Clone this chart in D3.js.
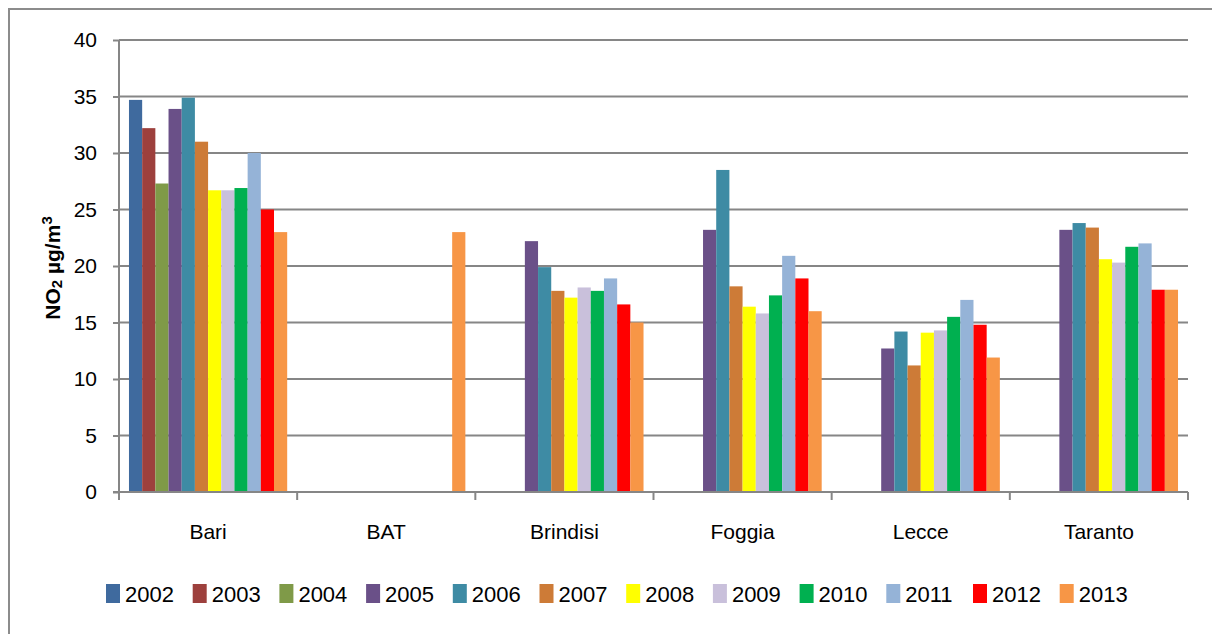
<!DOCTYPE html>
<html>
<head>
<meta charset="utf-8">
<script src="https://cdn.jsdelivr.net/npm/d3@7"></script>
<style>
  html, body { margin: 0; padding: 0; background: #fff; }
  svg { display: block; font-family: "Liberation Sans", Arial, sans-serif; }
</style>
</head>
<body>
<svg id="chart" width="1212" height="634"></svg>
<script>
// NO2 annual means by province (µg/m³), 2002–2013
const provinces = ["Bari", "BAT", "Brindisi", "Foggia", "Lecce", "Taranto"];
const years = ["2002", "2003", "2004", "2005", "2006", "2007", "2008", "2009", "2010", "2011", "2012", "2013"];
const yearColors = ["#3F6A9E", "#9D403D", "#7F9A48", "#6A5088", "#3E8BA4", "#CD7B37",
                    "#FFFF00", "#C9C0DB", "#00B050", "#95B3D7", "#FF0000", "#F79646"];
const yTicks = [0, 5, 10, 15, 20, 25, 30, 35, 40];

// one array per province, values in year order (null = no measurement)
const bari     = [34.7, 32.2, 27.3, 33.9, 34.9, 31.0, 26.7, 26.7, 26.9, 30.0, 25.0, 23.0];
const bat      = [null, null, null, null, null, null, null, null, null, null, null, 23.0];
const brindisi = [null, null, null, 22.2, 19.9, 17.8, 17.2, 18.1, 17.8, 18.9, 16.6, 15.0];
const foggia   = [null, null, null, 23.2, 28.5, 18.2, 16.4, 15.8, 17.4, 20.9, 18.9, 16.0];
const lecce    = [null, null, null, 12.7, 14.2, 11.2, 14.1, 14.3, 15.5, 17.0, 14.8, 11.9];
const taranto  = [null, null, null, 23.2, 23.8, 23.4, 20.6, 20.3, 21.7, 22.0, 17.9, 17.9];
const values = [bari, bat, brindisi, foggia, lecce, taranto];

const svg = d3.select("#chart");
const plotLeft = 119, plotRight = 1188, plotTop = 40, plotBottom = 492;

// outer chart frame
svg.append("rect")
  .attr("x", 9).attr("y", 9).attr("width", 1220).attr("height", 640)
  .attr("fill", "none").attr("stroke", "#8C8C8C").attr("stroke-width", 2);

const x0 = d3.scaleBand().domain(provinces).range([plotLeft, plotRight]).padding(0);
const bw = x0.bandwidth();
const x1 = d3.scaleBand().domain(years).range([bw * 0.056, bw * 0.944]).padding(0);
const y = d3.scaleLinear().domain([0, 40]).range([plotBottom, plotTop]);

const gridColor = "#868686";

// horizontal gridlines
svg.append("g").selectAll("line").data(yTicks.filter(d => d > 0)).join("line")
  .attr("x1", plotLeft).attr("x2", plotRight)
  .attr("y1", d => y(d)).attr("y2", d => y(d))
  .attr("stroke", gridColor).attr("stroke-width", 2);

// bars
const groups = svg.append("g").selectAll("g").data(provinces).join("g")
  .attr("transform", d => `translate(${x0(d)},0)`);
groups.selectAll("rect")
  .data((p, i) => values[i].map((v, j) => ({ year: years[j], v, c: yearColors[j] })).filter(d => d.v != null))
  .join("rect")
  .attr("x", d => x1(d.year))
  .attr("width", x1.bandwidth())
  .attr("y", d => y(d.v))
  .attr("height", d => y(0) - y(d.v))
  .attr("fill", d => d.c);

// y axis
const yAxis = svg.append("g").attr("transform", `translate(${plotLeft},0)`)
  .call(d3.axisLeft(y).tickValues(yTicks).tickSize(6).tickPadding(16));
yAxis.select(".domain").attr("stroke", gridColor).attr("stroke-width", 2).attr("d", `M0,${plotTop}V${plotBottom}`);
yAxis.selectAll(".tick line").attr("stroke", gridColor).attr("stroke-width", 2);
yAxis.selectAll(".tick text").attr("font-size", 21).attr("fill", "#000")
  .attr("font-family", "'Liberation Sans', Arial, sans-serif");

// x axis with ticks at category boundaries
const xAxis = svg.append("g").attr("transform", `translate(0,${plotBottom})`);
xAxis.append("line").attr("x1", plotLeft - 6).attr("x2", plotRight)
  .attr("stroke", gridColor).attr("stroke-width", 2);
const boundaries = provinces.map(p => x0(p)).concat([plotRight]);
xAxis.selectAll("line.tk").data(boundaries).join("line").attr("class", "tk")
  .attr("x1", d => d).attr("x2", d => d).attr("y1", 0).attr("y2", 8)
  .attr("stroke", gridColor).attr("stroke-width", 2);
xAxis.selectAll("text").data(provinces).join("text")
  .attr("x", d => x0(d) + bw / 2).attr("y", 47)
  .attr("text-anchor", "middle").attr("font-size", 21).attr("fill", "#000")
  .text(d => d);

// y axis title
const title = svg.append("text")
  .attr("transform", "translate(60,268) rotate(-90)")
  .attr("text-anchor", "middle").attr("font-size", 21).attr("font-weight", "bold").attr("fill", "#000");
title.append("tspan").text("NO");
title.append("tspan").attr("font-size", 15).attr("dy", 2).text("2");
title.append("tspan").attr("dy", -2).text(" µg/m");
title.append("tspan").attr("font-size", 15).attr("dy", -8).text("3");

// legend
const legend = svg.append("g").attr("transform", "translate(106,584)");
const item = legend.selectAll("g").data(years).join("g")
  .attr("transform", (d, i) => `translate(${i * 86.7},0)`);
item.append("rect").attr("width", 14).attr("height", 19).attr("fill", (d, i) => yearColors[i]);
item.append("text").attr("x", 19).attr("y", 18).attr("font-size", 22).attr("fill", "#000").text(d => d);
</script>
</body>
</html>
